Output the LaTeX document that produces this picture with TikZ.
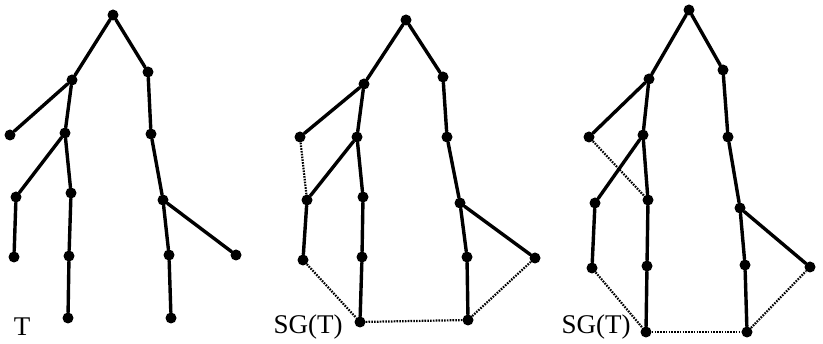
\documentclass[tikz,border=0pt]{standalone}
\usepackage{fontspec}
\setmainfont{Liberation Serif}
\begin{document}
\begin{tikzpicture}[x=1pt,y=-1pt,
  vtx/.style={circle,fill=black,inner sep=0pt,minimum size=11pt},
  tedge/.style={line width=3.4pt,line cap=round},
  xedge/.style={line width=2.2pt,dash pattern=on 1.6pt off 1.2pt},
  lbl/.style={font=\fontsize{27}{30}\selectfont,inner sep=0pt}]
\useasboundingbox (0,0) rectangle (823,344);

% ---- spanning tree T ----
\node[vtx] (a0) at (113,15) {};
\node[vtx] (a1) at (72,80) {};
\node[vtx] (a2) at (148,72) {};
\node[vtx] (a3) at (10,135) {};
\node[vtx] (a4) at (65,133) {};
\node[vtx] (a5) at (151,134) {};
\node[vtx] (a6) at (16,197) {};
\node[vtx] (a7) at (71,193) {};
\node[vtx] (a8) at (163,200) {};
\node[vtx] (a9) at (14,257) {};
\node[vtx] (a10) at (69,256) {};
\node[vtx] (a11) at (169,255) {};
\node[vtx] (a12) at (236,255) {};
\node[vtx] (a13) at (68,318) {};
\node[vtx] (a14) at (171,318) {};
\node[lbl] (la) at (22,327) {T};
\foreach \u/\v in {a0/a1,a0/a2,a1/a3,a1/a4,a2/a5,a4/a6,a4/a7,a5/a8,a6/a9,a7/a10,a8/a11,a8/a12,a10/a13,a11/a14}
  \draw[tedge] (\u) -- (\v);

% ---- SG(T), first variant ----
\node[vtx] (b0) at (406,20) {};
\node[vtx] (b1) at (364,84) {};
\node[vtx] (b2) at (443,77) {};
\node[vtx] (b3) at (300,137) {};
\node[vtx] (b4) at (357,137) {};
\node[vtx] (b5) at (447,137) {};
\node[vtx] (b6) at (307,200) {};
\node[vtx] (b7) at (363,197) {};
\node[vtx] (b8) at (460,203) {};
\node[vtx] (b9) at (303,260) {};
\node[vtx] (b10) at (362,257) {};
\node[vtx] (b11) at (467,257) {};
\node[vtx] (b12) at (535,258) {};
\node[vtx] (b13) at (360,322) {};
\node[vtx] (b14) at (468,320) {};
\node[lbl] (lb) at (308,327) {SG(T)};
\foreach \u/\v in {b0/b1,b0/b2,b1/b3,b1/b4,b2/b5,b4/b6,b4/b7,b5/b8,b6/b9,b7/b10,b8/b11,b8/b12,b10/b13,b11/b14}
  \draw[tedge] (\u) -- (\v);
\foreach \u/\v in {b3/b6,b9/b13,b13/b14,b14/b12}
  \draw[xedge] (\u) -- (\v);

% ---- SG(T), second variant ----
\node[vtx] (c0) at (689,10) {};
\node[vtx] (c1) at (649,79) {};
\node[vtx] (c2) at (723,70) {};
\node[vtx] (c3) at (589,137) {};
\node[vtx] (c4) at (643,135) {};
\node[vtx] (c5) at (728,137) {};
\node[vtx] (c6) at (595,203) {};
\node[vtx] (c7) at (648,200) {};
\node[vtx] (c8) at (740,208) {};
\node[vtx] (c9) at (592,268) {};
\node[vtx] (c10) at (647,266) {};
\node[vtx] (c11) at (745,265) {};
\node[vtx] (c12) at (810,267) {};
\node[vtx] (c13) at (646,332) {};
\node[vtx] (c14) at (747,332) {};
\node[lbl] (lc) at (596,327) {SG(T)};
\foreach \u/\v in {c0/c1,c0/c2,c1/c3,c1/c4,c2/c5,c4/c6,c4/c7,c5/c8,c6/c9,c7/c10,c8/c11,c8/c12,c10/c13,c11/c14}
  \draw[tedge] (\u) -- (\v);
\foreach \u/\v in {c3/c7,c9/c13,c13/c14,c14/c12}
  \draw[xedge] (\u) -- (\v);
\end{tikzpicture}
\end{document}
